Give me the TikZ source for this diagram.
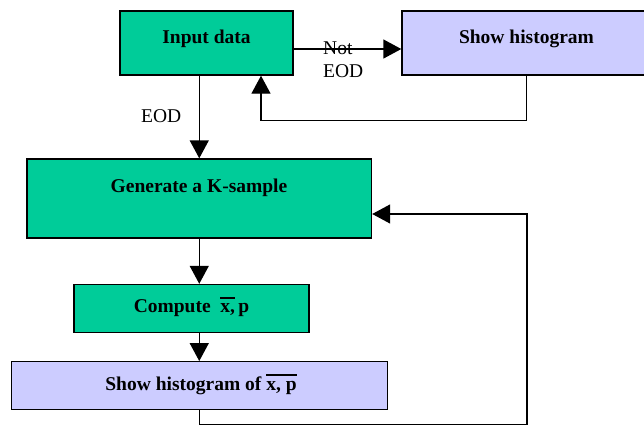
\documentclass[tikz,border=0pt]{standalone}
\usepackage{fontspec}
\setmainfont{Liberation Serif}
\usetikzlibrary{arrows.meta}

\definecolor{procgreen}{RGB}{0,204,153}
\definecolor{showlav}{RGB}{204,204,255}

% bar over a short piece of text (for sample mean notation)
\newcommand\barred[1]{\leavevmode\vbox{\hrule height 1.6pt\kern 5pt\hbox{#1}}}

\tikzset{
  box/.style={draw=black, line width=1.4pt, inner sep=0pt, rectangle},
  boxtxt/.style={inner sep=0pt, anchor=base, font=\fontsize{19.5}{23}\selectfont\bfseries},
  lbl/.style={inner sep=0pt, anchor=base west, font=\fontsize{19.5}{23}\selectfont},
  arr/.style={line width=1.4pt, -{Triangle[length=18pt,width=19pt]}},
  wire/.style={line width=1.4pt}
}

\begin{document}
\begin{tikzpicture}[x=1pt,y=-1pt]
\useasboundingbox (0,0) rectangle (644,424);
\clip (0,0) rectangle (644,424);

% process boxes
\node[box, fill=procgreen, minimum width=173pt, minimum height=64pt] (inp) at (206.5,43) {};
\node[box, fill=showlav,  minimum width=249pt, minimum height=64pt] (shw) at (526.5,43) {};
\node[box, fill=procgreen, minimum width=344.5pt, minimum height=79pt] (gen) at (199.25,198.5) {};
\node[box, fill=procgreen, minimum width=235pt, minimum height=48pt] (cmp) at (191.5,308.5) {};
\node[box, fill=showlav,  minimum width=376pt, minimum height=47.5pt] (shx) at (199.5,385.5) {};

% box captions
\node[boxtxt] (inpT) at (206.5,43) {Input data};
\node[boxtxt] (shwT) at (526.5,43.3) {Show histogram};
\node[boxtxt] (genT) at (199,192.3) {Generate a K-sample};
\node[boxtxt] (cmpT) at (191.5,312.7) {Compute\ \ \barred{x,}\,p};
\node[boxtxt] (shxT) at (201,390) {Show histogram of \barred{x, p}};

% branch labels
\node[lbl] (notA) at (323,54) {Not};
\node[lbl] (notB) at (323,77.3) {EOD};
\node[lbl] (eod)  at (141,122.3) {EOD};

% connectors
\draw[arr] ([yshift=-6pt]inp.east) -- ([yshift=-6pt]shw.west);
\draw[arr] (shw.south) -- ++(0,45) -| ([xshift=54.5pt]inp.south);
\draw[arr] (inp.south -| gen.north) -- (gen.north);
\draw[arr] (gen.south) -- (gen.south |- cmp.north);
\draw[arr] (gen.south |- cmp.south) -- (gen.south |- shx.north);

% return path runs along the lower edge of the sheet
\coordinate (lb) at (199.25,424.6);
\coordinate (lr) at (527,424.6);
\draw[arr] (gen.south |- shx.south) -- (lb) -- (lr) |- ([yshift=-15.5pt]gen.east);
\end{tikzpicture}
\end{document}
